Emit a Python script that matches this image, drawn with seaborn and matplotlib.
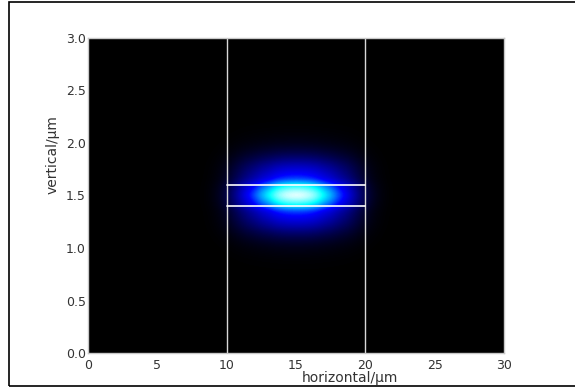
import matplotlib
matplotlib.use('Agg')
from matplotlib import pyplot as plt
from matplotlib.colors import LinearSegmentedColormap
from matplotlib.patches import Rectangle
import seaborn as sns
import numpy as np

x_pos = np.arange(0, 30.01, 0.5)
x_profile = [0] * 16 + [0.003, 0.01, 0.03, 0.07, 0.14, 0.25, 0.38, 0.50, 0.60, 0.72, 0.80, 0.90, 0.96, 0.99,
                        1.0,
                        0.99, 0.96, 0.90, 0.80, 0.72, 0.60, 0.50, 0.38, 0.25, 0.14, 0.07, 0.03, 0.01,
                        0.003] + [0] * 16
y_pos = np.arange(0, 3.001, 0.05)
y_profile = [0] * 15 + [0.002, 0.004, 0.008, 0.015, 0.03, 0.05, 0.09, 0.15, 0.23, 0.33, 0.42,
                        0.50, 0.58, 0.80, 0.92,
                        1.0,
                        0.92, 0.80, 0.58, 0.50, 0.42, 0.33, 0.23, 0.15, 0.09, 0.05, 0.03,
                        0.015, 0.008, 0.004, 0.002] + [0] * 15

# waveguide outline
wall_x = [10, 20]
slab_y = [1.4, 1.6]

sns.set_style('white')
plt.rcParams['font.family'] = ['DejaVu Sans']

field = np.outer(y_profile, x_profile)
cmap = LinearSegmentedColormap.from_list(
    'mode', [(0, 'black'), (0.5, '#0000ff'), (0.8, '#00ffff'), (1, 'white')])

fig = plt.figure(figsize=(5.75, 3.89), dpi=100)
ax = fig.add_axes([0.153, 0.0925, 0.7235, 0.810])
ax.imshow(field, cmap=cmap, origin='lower', aspect='auto', interpolation='bicubic',
          extent=[x_pos[0] - 0.25, x_pos[-1] + 0.25, y_pos[0] - 0.025, y_pos[-1] + 0.025],
          vmin=0, vmax=1)

for wx in wall_x:
    ax.axvline(wx, color='#d8d8d8', lw=1)
for sy in slab_y:
    ax.plot(wall_x, [sy, sy], color='white', lw=1.2)

ax.set_xlim(0, 30)
ax.set_ylim(0, 3)
ax.set_xticks([0, 5, 10, 15, 20, 25, 30])
ax.set_yticks([0.0, 0.5, 1.0, 1.5, 2.0, 2.5, 3.0])
ax.set_yticklabels(['0.0', '0.5', '1.0', '1.5', '2.0', '2.5', '3.0'])
ax.tick_params(length=0, labelsize=9, colors='#333333')
ax.tick_params(axis='x', pad=4)
ax.tick_params(axis='y', pad=1.5)
for s in ax.spines.values():
    s.set_color('#c8c8c8')
    s.set_linewidth(1)

ax.set_xlabel('horizontal/µm', fontsize=10, color='#333333')
ax.set_ylabel('vertical/µm', fontsize=10, color='#333333')
ax.xaxis.set_label_coords(0.63, -0.058)
ax.yaxis.set_label_coords(-0.068, 0.629)

fig.patches.append(Rectangle((0.0157, 0.0077), 1.05, 0.987, transform=fig.transFigure,
                             fill=False, edgecolor='black', lw=1.2))

plt.savefig('out.png', dpi=100)
